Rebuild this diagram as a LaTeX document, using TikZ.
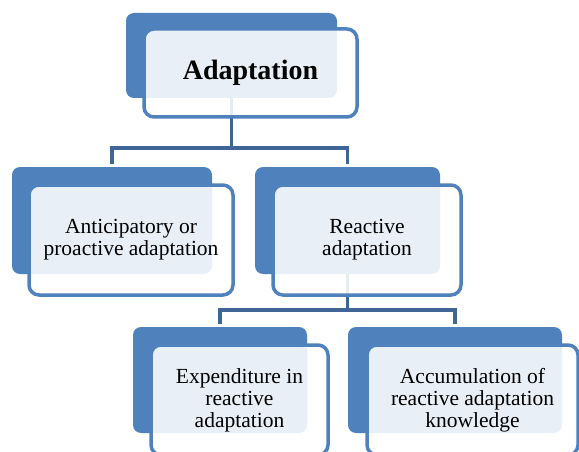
\documentclass[tikz,border=0pt]{standalone}
\usepackage{fontspec}
\setmainfont{Liberation Serif}
\usetikzlibrary{backgrounds}
\definecolor{boxblue}{RGB}{79,129,189}
\definecolor{linkblue}{RGB}{64,101,151}

\begin{document}
\begin{tikzpicture}[x=1pt,y=-1pt,
    back/.style={fill=boxblue, rounded corners=8pt, inner sep=0pt},
    front/.style={draw=boxblue, line width=3.5pt, fill=white, fill opacity=0.88, text opacity=1,
      rounded corners=10pt, inner sep=0pt, align=center, font=\fontsize{21.5}{22}\selectfont},
    link/.style={draw=linkblue, line width=3.5pt, shorten >=3pt}]
    \clip (0,0) rectangle (579,452);
    % back boxes
    \node[back, minimum width=211pt, minimum height=85pt] (b0) at (231.5,55.5) {};
    \node[back, minimum width=200pt, minimum height=107pt] (b1) at (112,220.5) {};
    \node[back, minimum width=185pt, minimum height=107pt] (b2) at (347.5,220.5) {};
    \node[back, minimum width=174pt, minimum height=106pt] (b3) at (220,380) {};
    \node[back, minimum width=214pt, minimum height=106pt] (b4) at (455,380) {};
    % front boxes
    \node[front, minimum width=213pt, minimum height=88pt, font=\fontsize{28}{30}\selectfont\bfseries] (f0) at (250.5,73) {Adaptation};
    \node[front, minimum width=204pt, minimum height=110pt] (f1) at (131,240) {Anticipatory or\\proactive adaptation};
    \node[front, minimum width=188pt, minimum height=110pt] (f2) at (367,240) {Reactive\\adaptation};
    \node[front, minimum width=177pt, minimum height=110pt] (f3) at (239.5,400) {Expenditure in\\reactive\\adaptation};
    \node[front, minimum width=211pt, minimum height=110pt] (f4) at (472.5,400) {Accumulation of\\reactive adaptation\\knowledge};
    % connectors
    \path (b0.south) ++(0,50) coordinate (j0);
    \path (b2.south) ++(0,36) coordinate (j1);
    \begin{scope}[on background layer]
      \draw[link] (b0.south) -- (j0) -| (b1.north);
      \draw[link] (j0) -| (b2.north);
      \draw[link] (b2.south) -- (j1) -| (b3.north);
      \draw[link] (j1) -| (b4.north);
    \end{scope}
\end{tikzpicture}
\end{document}
